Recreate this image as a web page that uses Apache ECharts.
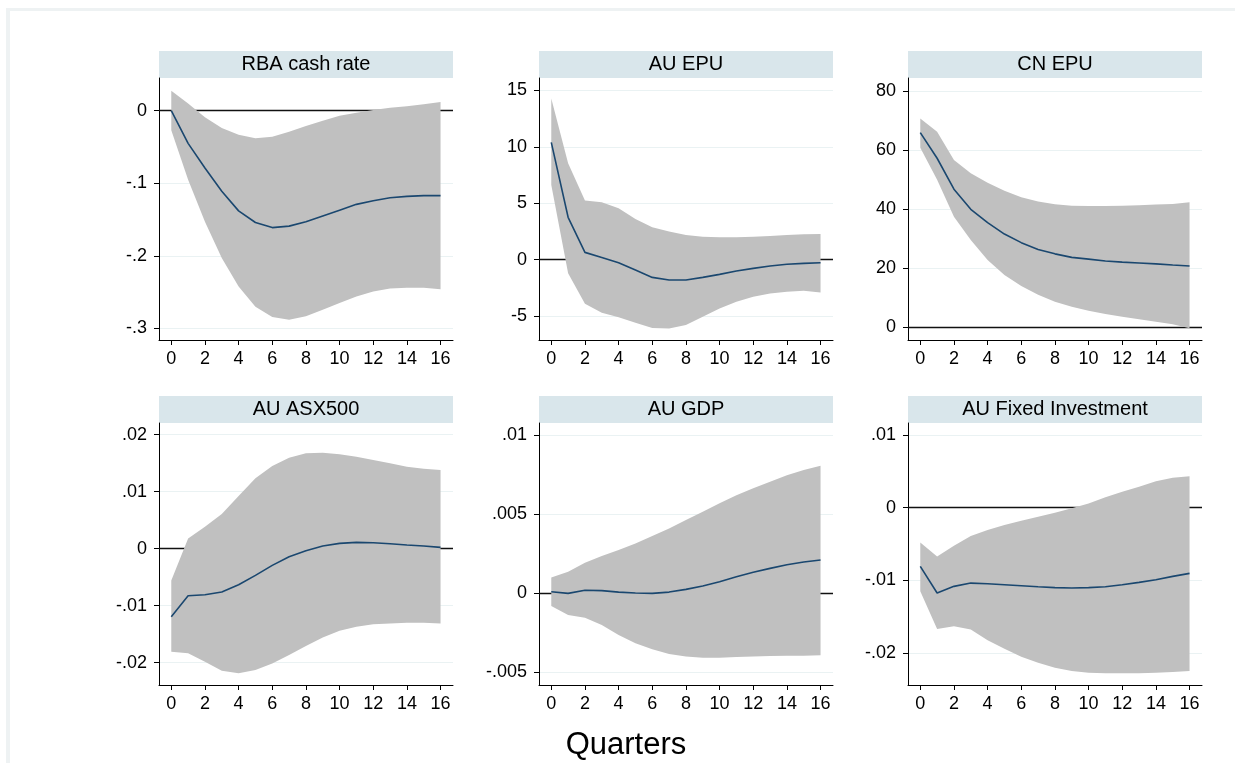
<!DOCTYPE html>
<html>
<head>
<meta charset="utf-8">
<script src="https://cdn.jsdelivr.net/npm/echarts@6/dist/echarts.min.js"></script>
<style>
html,body{margin:0;padding:0;background:#fff;}
#c{width:1235px;height:763px;}
</style>
</head>
<body>
<div id="c"></div>
<script>
// ---------- data ----------
const quarters = [0,1,2,3,4,5,6,7,8,9,10,11,12,13,14,15,16];
const xTicks = [0,2,4,6,8,10,12,14,16];
const xTitle = 'Quarters';

const titles = ['RBA cash rate','AU EPU','CN EPU','AU ASX500','AU GDP','AU Fixed Investment'];

const rbaIrf   = [0,-0.045,-0.079,-0.111,-0.138,-0.154,-0.161,-0.159,-0.153,-0.145,-0.137,-0.129,-0.124,-0.120,-0.118,-0.117,-0.117];
const rbaUpper = [0.0275,0.010,-0.009,-0.024,-0.033,-0.038,-0.036,-0.029,-0.021,-0.014,-0.007,-0.003,0.001,0.004,0.006,0.009,0.012];
const rbaLower = [-0.027,-0.095,-0.153,-0.203,-0.242,-0.270,-0.284,-0.288,-0.283,-0.274,-0.265,-0.256,-0.249,-0.245,-0.244,-0.244,-0.246];
const rbaTicks = [0,-0.1,-0.2,-0.3];

const auEpuIrf   = [10.4,3.76,0.65,0.2,-0.27,-0.92,-1.57,-1.80,-1.80,-1.57,-1.30,-1.0,-0.77,-0.56,-0.41,-0.33,-0.27];
const auEpuUpper = [14.3,8.55,5.24,5.1,4.56,3.6,2.87,2.49,2.19,2.04,1.98,1.98,2.04,2.1,2.19,2.25,2.28];
const auEpuLower = [6.63,-1.21,-3.9,-4.7,-5.1,-5.6,-6.05,-6.1,-5.8,-5.06,-4.32,-3.73,-3.28,-2.99,-2.84,-2.75,-2.9];
const auEpuTicks = [15,10,5,0,-5];

const cnEpuIrf   = [66,57.3,46.8,40,35.5,31.6,28.7,26.4,24.9,23.7,23.1,22.5,22.1,21.8,21.5,21.1,20.8];
const cnEpuUpper = [70.8,66.3,56.7,52.2,49.0,46.3,44.1,42.6,41.7,41.2,41.1,41.1,41.2,41.4,41.6,41.8,42.4];
const cnEpuLower = [60.9,50,37.5,29.6,22.8,17.7,14,11,8.7,7.0,5.6,4.5,3.6,2.7,1.9,1.0,-0.3];
const cnEpuTicks = [80,60,40,20,0];

const asxIrf   = [-0.01193,-0.00825,-0.00807,-0.0076,-0.00632,-0.00468,-0.00292,-0.0014,-0.00035,0.00047,0.00094,0.00111,0.00105,0.00088,0.00064,0.00047,0.00023];
const asxUpper = [-0.0056,0.0018,0.00386,0.00608,0.00924,0.01234,0.0145,0.01596,0.01673,0.01684,0.01655,0.01614,0.01556,0.01497,0.01439,0.01404,0.0138];
const asxLower = [-0.01807,-0.01836,-0.01982,-0.0214,-0.02187,-0.02129,-0.02012,-0.01865,-0.01708,-0.01556,-0.01439,-0.01368,-0.01327,-0.0131,-0.01298,-0.01298,-0.0131];
const asxTicks = [0.02,0.01,0,-0.01,-0.02];

const gdpIrf   = [0.0001,0,0.0002,0.00017,0.00008,0.00002,0,0.00008,0.00025,0.00046,0.00074,0.00105,0.00133,0.00158,0.00181,0.00198,0.00211];
const gdpUpper = [0.00101,0.00137,0.00194,0.00236,0.00274,0.00316,0.00363,0.00411,0.00464,0.00517,0.0057,0.0062,0.00665,0.00707,0.00747,0.00781,0.00808];
const gdpLower = [-0.0008,-0.00137,-0.00154,-0.002,-0.00264,-0.00316,-0.00354,-0.00384,-0.004,-0.00407,-0.00407,-0.00403,-0.004,-0.00397,-0.00395,-0.00395,-0.00392];
const gdpTicks = [0.01,0.005,0,-0.005];

const fixIrf   = [-0.00808,-0.01174,-0.01082,-0.01037,-0.01046,-0.01059,-0.01073,-0.01087,-0.011,-0.01105,-0.011,-0.01087,-0.01059,-0.01027,-0.00991,-0.00945,-0.00904];
const fixUpper = [-0.0048,-0.0067,-0.00525,-0.00388,-0.00306,-0.00237,-0.00178,-0.00123,-0.00068,-0.00009,0.00059,0.00142,0.00219,0.00288,0.00365,0.00411,0.00434];
const fixLower = [-0.01151,-0.01667,-0.01631,-0.01676,-0.01822,-0.01941,-0.0205,-0.02132,-0.02201,-0.02247,-0.02269,-0.02279,-0.02279,-0.02279,-0.02269,-0.0226,-0.02247];
const fixTicks = [0.01,0,-0.01,-0.02];

// ---------- layout ----------
const panels = [
  {irf: rbaIrf,   up: rbaUpper,   lo: rbaLower,   ticks: rbaTicks,   min: -0.3158, max: 0.0450},
  {irf: auEpuIrf, up: auEpuUpper, lo: auEpuLower, ticks: auEpuTicks, min: -7.12,   max: 16.11},
  {irf: cnEpuIrf, up: cnEpuUpper, lo: cnEpuLower, ticks: cnEpuTicks, min: -4.3,    max: 84.5},
  {irf: asxIrf,   up: asxUpper,   lo: asxLower,   ticks: asxTicks,   min: -0.02391,max: 0.02205},
  {irf: gdpIrf,   up: gdpUpper,   lo: gdpLower,   ticks: gdpTicks,   min: -0.0058, max: 0.01078},
  {irf: fixIrf,   up: fixUpper,   lo: fixLower,   ticks: fixTicks,   min: -0.02439,max: 0.01165}
];
const colLeft = [159, 539, 908];
const plotW = 294;
const rowTop = [78, 423];
const plotH = 262;
const headerH = 27;

const FONT = '"Liberation Sans", Arial, sans-serif';
const fmtY = v => {
  if (v === 0) return '0';
  let s = String(+v.toPrecision(6));
  return s.replace(/^(-?)0\./, '$1.');
};

const grids = [], xAxes = [], yAxes = [], series = [], graphics = [];

// outer frame
graphics.push({type:'rect', shape:{x:6,y:8,width:4,height:755}, style:{fill:'#eef2f3'}, silent:true});
graphics.push({type:'rect', shape:{x:6,y:8,width:1229,height:3}, style:{fill:'#eef2f3'}, silent:true});

panels.forEach((p, i) => {
  const c = i % 3, r = Math.floor(i / 3);
  const left = colLeft[c], top = rowTop[r];
  grids.push({left: left, top: top, width: plotW, height: plotH, containLabel: false});
  xAxes.push({
    type: 'value', gridIndex: i, min: -0.73, max: 16.74,
    axisLine: {show: true, onZero: false, lineStyle: {color: '#000', width: 1}},
    axisTick: {show: true, length: 5, customValues: xTicks, lineStyle: {color: '#000'}},
    axisLabel: {show: true, customValues: xTicks, fontSize: 18, color: '#000', fontFamily: FONT, margin: 10},
    splitLine: {show: false}
  });
  yAxes.push({
    type: 'value', gridIndex: i, min: p.min, max: p.max,
    axisLine: {show: true, onZero: false, lineStyle: {color: '#000', width: 1}},
    axisTick: {show: true, length: 5, customValues: p.ticks, lineStyle: {color: '#000'}},
    axisLabel: {show: true, customValues: p.ticks, fontSize: 18, color: '#000', fontFamily: FONT, margin: 12, formatter: fmtY},
    splitLine: {show: true, lineStyle: {color: '#eaf2f3', width: 1}}
  });
  // confidence band as one polygon, positioned via the axes' scales
  series.push({
    type: 'custom', xAxisIndex: i, yAxisIndex: i, data: [[0, 0]], silent: true, z: 2, clip: true,
    renderItem: (params, api) => {
      const pts = [];
      quarters.forEach((q, k) => pts.push(api.coord([q, p.up[k]])));
      for (let k = quarters.length - 1; k >= 0; k--) pts.push(api.coord([quarters[k], p.lo[k]]));
      return {type: 'polygon', shape: {points: pts}, style: {fill: '#c0c0c0', stroke: null}};
    }
  });
  const irfPts = quarters.map((q, k) => [q, p.irf[k]]);
  series.push({
    type: 'line', xAxisIndex: i, yAxisIndex: i, data: irfPts, z: 3,
    symbol: 'none', lineStyle: {color: '#1a476f', width: 1.6}, silent: true,
    markLine: {silent: true, symbol: 'none', label: {show: false}, z: 1,
      lineStyle: {color: '#111', width: 1.3, type: 'solid'}, data: [{yAxis: 0}], animation: false}
  });
  // header strip
  graphics.push({type: 'rect', shape: {x: left, y: top - headerH, width: plotW, height: headerH}, style: {fill: '#d9e6eb'}, silent: true});
  graphics.push({type: 'text', x: left + plotW / 2, y: top - headerH / 2, silent: true,
    style: {text: titles[i], fill: '#000', font: '20px ' + FONT, textAlign: 'center', textVerticalAlign: 'middle'}});
});

graphics.push({type: 'text', x: 626, y: 745, silent: true,
  style: {text: xTitle, fill: '#000', font: '31px ' + FONT, textAlign: 'center', textVerticalAlign: 'middle'}});

const chart = echarts.init(document.getElementById('c'), null, {renderer: 'canvas'});
chart.setOption({
  animation: false,
  backgroundColor: '#fff',
  grid: grids, xAxis: xAxes, yAxis: yAxes, series: series,
  graphic: graphics
});
</script>
</body>
</html>
